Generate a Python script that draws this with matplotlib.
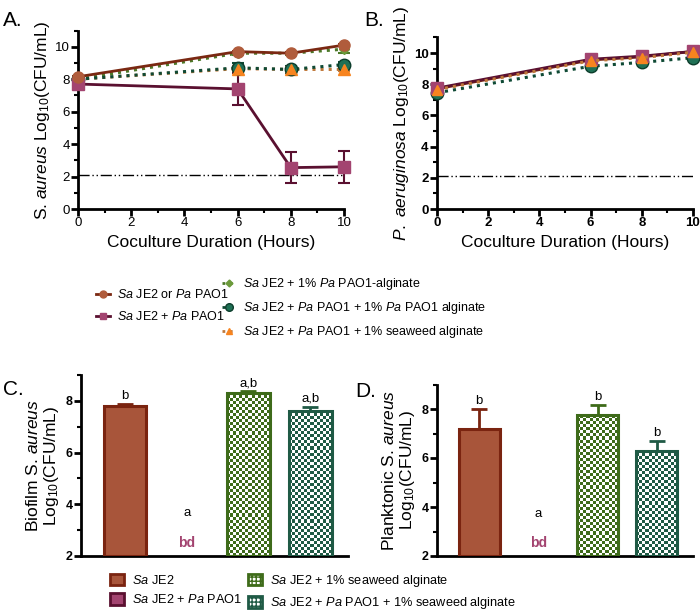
import numpy as np
import matplotlib.pyplot as plt
from matplotlib.lines import Line2D
from matplotlib.patches import Patch
from matplotlib.colors import ListedColormap
from matplotlib.ticker import MultipleLocator

plt.rcParams['font.family'] = ['Liberation Sans', 'DejaVu Sans']
plt.rcParams['mathtext.fontset'] = 'custom'
plt.rcParams['mathtext.rm'] = 'Liberation Sans'
plt.rcParams['mathtext.it'] = 'Liberation Sans:italic'
plt.rcParams['mathtext.bf'] = 'Liberation Sans:bold'

# ---- data: time course (panels A and B)
hours = [0, 6, 8, 10]
detect_limit = 2.1

a_sa_or_pa = [8.15, 9.7, 9.6, 10.1]
a_sa_or_pa_err = [0.05, 0.05, 0.05, 0.05]
a_sa_pa = [7.7, 7.4, 2.55, 2.6]
a_sa_pa_err = [0.1, 1.0, 0.95, 1.0]
a_pa_alg = [8.0, 9.6, 9.6, 9.85]
a_pa_alg_err = [0.05, 0.1, 0.1, 0.25]
a_sa_pa_paalg = [8.0, 8.7, 8.6, 8.9]
a_sa_pa_paalg_err = [0.05, 0.3, 0.22, 0.15]
a_sa_pa_sw = [8.0, 8.65, 8.6, 8.6]
a_sa_pa_sw_err = [0.05, 0.15, 0.15, 0.1]

b_pa = [7.7, 9.55, 9.75, 10.1]
b_sa_pa = [7.75, 9.6, 9.8, 10.1]
b_sa_pa_paalg = [7.45, 9.15, 9.4, 9.7]
b_sa_pa_sw = [7.65, 9.5, 9.7, 10.05]

# ---- data: bars (panels C and D), nan = below detection
bar_groups = ['Sa JE2', 'Sa JE2 + Pa PAO1', 'Sa JE2 + 1% seaweed alginate',
              'Sa JE2 + Pa PAO1 + 1% seaweed alginate']
c_vals = [7.82, np.nan, 8.32, 7.62]
c_err = [0.07, 0, 0.05, 0.15]
c_letters = ['b', 'a', 'a,b', 'a,b']
d_vals = [7.2, np.nan, 7.75, 6.3]
d_err = [0.8, 0, 0.4, 0.38]
d_letters = ['b', 'a', 'b', 'b']

# colours
brown_line, brown_mk = '#7a2812', '#b05c3c'
purple_line, purple_mk = '#5a1030', '#a34470'
green_line, green_mk = '#4d7a2a', '#6b9a3a'
teal_line, teal_mk = '#0f4a35', '#1f7055'
orange_line, orange_mk = '#c0783a', '#f7841f'
bar_green, bar_teal = '#3e6b1a', '#1f5a45'

fig = plt.figure(figsize=(7, 6.15), dpi=100)


def px(x0, y0, x1, y1):
    # pixel box -> figure fraction rect
    return [x0 / 700, 1 - y1 / 615, (x1 - x0) / 700, (y1 - y0) / 615]


def style_line_ax(ax, bold):
    for s in ['top', 'right']:
        ax.spines[s].set_visible(False)
    for s in ['left', 'bottom']:
        ax.spines[s].set_linewidth(2)
    ax.set_xlim(0, 10)
    ax.set_ylim(0, 11)
    ax.set_xticks(range(0, 11, 2))
    ax.set_yticks(range(0, 11, 2))
    ax.xaxis.set_minor_locator(MultipleLocator(1))
    ax.yaxis.set_minor_locator(MultipleLocator(1))
    ax.tick_params(which='major', direction='out', width=2, length=5, labelsize=9.5, pad=1)
    ax.tick_params(which='minor', direction='out', width=1.5, length=3)
    if bold:
        for lab in ax.get_xticklabels() + ax.get_yticklabels():
            lab.set_fontweight('bold')
    ax.axhline(detect_limit, color='black', lw=1, ls=(0, (8, 2, 1, 2, 1, 2)), zorder=1)
    ax.set_xlabel('Coculture Duration (Hours)', fontsize=12.5, labelpad=4)


def series(ax, y, err, lc, mc, mk, ms, ls, mec=None):
    ax.errorbar(hours, y, yerr=err, color=lc, ls=ls, lw=2 if ls == '-' else 2.2,
                marker=mk, ms=ms, mfc=mc, mec=mec or mc, ecolor=lc, elinewidth=1.5,
                capsize=4, capthick=1.5, clip_on=False, zorder=3)


# ---- panel A
axA = fig.add_axes(px(78, 30.5, 344, 209))
style_line_ax(axA, False)
series(axA, a_sa_pa_sw, a_sa_pa_sw_err, orange_line, orange_mk, '^', 8, ':')
series(axA, a_pa_alg, a_pa_alg_err, green_line, green_mk, 'D', 5, ':')
series(axA, a_sa_pa_paalg, a_sa_pa_paalg_err, teal_line, teal_mk, 'o', 9, ':', '#0c3d2b')
series(axA, a_sa_pa_sw, a_sa_pa_sw_err, orange_line, orange_mk, '^', 7, 'none')
series(axA, a_sa_pa, a_sa_pa_err, purple_line, purple_mk, 's', 8, '-')
series(axA, a_sa_or_pa, a_sa_or_pa_err, brown_line, brown_mk, 'o', 8, '-')
axA.set_ylabel(r'S. $\mathit{aureus}$ Log$_{10}$(CFU/mL)', fontsize=12.5, labelpad=2)

# ---- panel B
axB = fig.add_axes(px(437, 37.4, 693, 209))
style_line_ax(axB, True)
series(axB, b_sa_pa_paalg, None, teal_line, teal_mk, 'o', 9, ':', '#0c3d2b')
series(axB, b_pa, None, brown_line, brown_mk, 'o', 8, '-')
series(axB, b_sa_pa, None, purple_line, purple_mk, 's', 8, '-')
series(axB, b_sa_pa_sw, None, orange_line, orange_mk, '^', 7, ':')
axB.set_ylabel(r'$\mathit{P.\ aeruginosa}$ Log$_{10}$(CFU/mL)', fontsize=12.5, labelpad=2)

# ---- legend for A/B
h_left = [Line2D([], [], color=brown_line, lw=2, marker='o', ms=5, mfc=brown_mk, mec=brown_mk),
          Line2D([], [], color=purple_line, lw=2, marker='s', ms=5, mfc=purple_mk, mec=purple_mk)]
l_left = [r'$\mathit{Sa}$ JE2 or $\mathit{Pa}$ PAO1', r'$\mathit{Sa}$ JE2 + $\mathit{Pa}$ PAO1']
h_right = [Line2D([], [], color=green_line, lw=2, ls=':', marker='D', ms=3.5, mfc=green_mk, mec=green_mk),
           Line2D([], [], color=teal_line, lw=2, ls=':', marker='o', ms=5.5, mfc=teal_mk, mec='#0c3d2b'),
           Line2D([], [], color=orange_line, lw=2, ls=':', marker='^', ms=5, mfc=orange_mk, mec=orange_mk)]
l_right = [r'$\mathit{Sa}$ JE2 + 1% $\mathit{Pa}$ PAO1-alginate',
           r'$\mathit{Sa}$ JE2 + $\mathit{Pa}$ PAO1 + 1% $\mathit{Pa}$ PAO1 alginate',
           r'$\mathit{Sa}$ JE2 + $\mathit{Pa}$ PAO1 + 1% seaweed alginate']
leg_kw = dict(frameon=False, fontsize=9, borderpad=0, borderaxespad=0, handlelength=1.1,
              handletextpad=0.6, numpoints=1, loc='upper left')
fig.legend(h_left, l_left, bbox_to_anchor=(96 / 700, 1 - 288 / 615), labelspacing=0.75, **leg_kw)
fig.legend(h_right, l_right, bbox_to_anchor=(222 / 700, 1 - 276 / 615), labelspacing=0.65, **leg_kw)


# ---- bar panels
face_cols = ['#a8553a', purple_mk, bar_green, bar_teal]
edge_cols = ['#7a2410', purple_line, bar_green, bar_teal]
checkered = [False, False, True, True]


def bar_panel(ax, vals, err, letters, ylabel):
    for s in ['top', 'right']:
        ax.spines[s].set_visible(False)
    for s in ['left', 'bottom']:
        ax.spines[s].set_linewidth(2)
    ax.set_xlim(-0.71, 3.61)
    ax.set_ylim(2, 9)
    ax.set_xticks([])
    ax.set_yticks([2, 4, 6, 8])
    ax.yaxis.set_minor_locator(MultipleLocator(1))
    ax.tick_params(which='major', direction='out', width=2, length=5, labelsize=9, pad=1)
    ax.tick_params(which='minor', direction='out', width=1.5, length=3)
    for lab in ax.get_yticklabels():
        lab.set_fontweight('bold')
    x = np.arange(len(vals))
    heights = np.array(vals) - 2
    for i in range(len(vals)):
        if np.isnan(vals[i]):
            ax.text(x[i], 3.45, letters[i], ha='center', va='bottom', fontsize=9.5)
            ax.text(x[i], 2.25, 'bd', ha='center', va='bottom', fontsize=10,
                    fontweight='bold', color=purple_mk)
            continue
        ax.errorbar(x[i], vals[i], yerr=[[0], [err[i]]], fmt='none', ecolor=edge_cols[i],
                    elinewidth=2, capsize=6, capthick=2, zorder=1)
        if checkered[i]:
            b = ax.bar(x[i], heights[i], bottom=2, width=0.69, facecolor='none',
                       edgecolor=edge_cols[i], lw=2.2, zorder=4)[0]
            p0 = ax.transData.transform((b.get_x(), b.get_y()))
            p1 = ax.transData.transform((b.get_x() + b.get_width(), b.get_y() + b.get_height()))
            nx = max(int((p1[0] - p0[0]) / 3), 2)
            ny = max(int((p1[1] - p0[1]) / 3), 2)
            cells = np.indices((ny, nx)).sum(axis=0) % 2
            ax.imshow(cells, extent=(b.get_x(), b.get_x() + b.get_width(), b.get_y(),
                                     b.get_y() + b.get_height()),
                      cmap=ListedColormap(['white', face_cols[i]]), aspect='auto',
                      interpolation='nearest', zorder=3)
        else:
            ax.bar(x[i], heights[i], bottom=2, width=0.69, facecolor=face_cols[i],
                   edgecolor=edge_cols[i], lw=2.2, zorder=3)
        ax.text(x[i], vals[i] + err[i] + 0.08, letters[i], ha='center', va='bottom', fontsize=9.5)
    ax.set_xlim(-0.71, 3.61)
    ax.set_ylim(2, 9)
    ax.set_ylabel(ylabel, fontsize=12.5, labelpad=3, linespacing=1.1)


axC = fig.add_axes(px(81, 375, 348, 556))
bar_panel(axC, c_vals, c_err, c_letters, 'Biofilm S. $\\mathit{aureus}$\nLog$_{10}$(CFU/mL)')
axD = fig.add_axes(px(437, 384.5, 693, 556))
bar_panel(axD, d_vals, d_err, d_letters, 'Planktonic S. $\\mathit{aureus}$\nLog$_{10}$(CFU/mL)')

bar_handles = [Patch(facecolor=face_cols[0], edgecolor=edge_cols[0], lw=2),
               Patch(facecolor=face_cols[1], edgecolor=edge_cols[1], lw=2),
               Patch(facecolor='white', edgecolor=bar_green, hatch='++++', lw=2),
               Patch(facecolor='white', edgecolor=bar_teal, hatch='++++', lw=2)]
bar_labels = [r'$\mathit{Sa}$ JE2', r'$\mathit{Sa}$ JE2 + $\mathit{Pa}$ PAO1',
              r'$\mathit{Sa}$ JE2 + 1% seaweed alginate',
              r'$\mathit{Sa}$ JE2 + $\mathit{Pa}$ PAO1 + 1% seaweed alginate']
fig.legend(bar_handles, bar_labels, ncol=2, frameon=False, fontsize=9.2, loc='upper left',
           bbox_to_anchor=(110 / 700, 1 - 573 / 615), borderpad=0, borderaxespad=0,
           handlelength=1.1, handleheight=1.0, handletextpad=0.6, columnspacing=0.5,
           labelspacing=0.5)

# panel letters
fig.text(3 / 700, 1 - 26 / 615, 'A.', fontsize=15)
fig.text(364 / 700, 1 - 26 / 615, 'B.', fontsize=15)
fig.text(3 / 700, 1 - 395 / 615, 'C.', fontsize=15)
fig.text(355 / 700, 1 - 397 / 615, 'D.', fontsize=15)

fig.savefig('out.png', dpi=100)
